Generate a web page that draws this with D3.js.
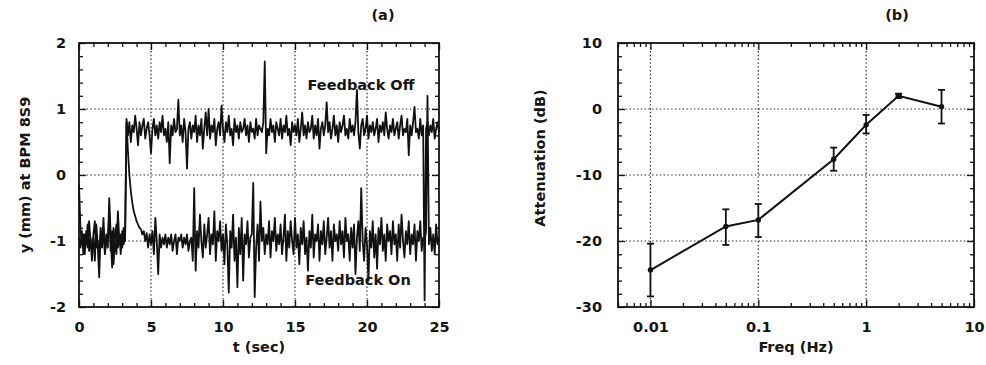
<!DOCTYPE html>
<html><head><meta charset="utf-8">
<script src="https://cdn.jsdelivr.net/npm/d3@7"></script>
<style>
body{margin:0;background:#fff}
text{font-family:"DejaVu Sans",sans-serif;font-weight:bold;fill:#151515}
</style>
</head><body>
<svg id="c" width="986" height="365"></svg>
<script>
// ---------- Panel (a): beam position vs time (sampled every 0.1 s) ----------
const sampleStep = 0.1;
const feedbackOff = [
 -0.95,-1.10,-0.85,-1.20,-0.90,-1.05,-0.75,-1.15,-0.95,-1.30,
 -0.90,-0.70,-1.10,-1.00,-1.25,-0.80,-1.05,-0.65,-1.20,-0.90,
 -1.00,-0.60,-1.15,-0.85,-1.35,-0.95,-0.75,-1.10,-0.90,-1.20,
 -0.85,-1.05,-0.95,0.85,0.60,0.80,0.50,0.75,0.65,0.90,
 0.70,0.45,0.80,0.60,0.75,0.85,0.55,0.70,0.80,0.60,
 0.33,0.70,0.85,0.60,0.75,0.55,0.80,0.65,0.90,0.60,
 0.70,0.50,0.80,0.18,0.75,0.60,0.85,0.65,0.70,1.14,
 0.60,0.75,0.50,0.85,0.65,0.10,0.70,0.80,0.55,0.75,
 0.65,0.90,0.50,0.75,0.60,0.85,0.40,0.70,0.95,0.60,
 1.00,0.55,0.75,0.65,0.85,0.45,0.70,0.80,0.60,1.05,
 0.70,0.50,0.80,0.65,0.90,0.60,0.70,0.45,0.85,0.65,
 0.75,0.55,0.80,0.65,0.70,0.85,0.60,0.75,0.50,0.80,
 0.65,0.70,0.55,0.85,0.60,0.75,0.70,0.65,0.80,1.72,
 0.33,0.70,0.60,0.85,0.65,0.75,0.50,0.80,0.70,0.60,
 0.85,0.55,0.75,0.65,0.90,0.60,0.70,0.45,0.80,0.65,
 0.75,0.60,0.85,0.50,0.70,0.95,0.60,0.75,0.55,0.80,
 0.65,0.70,0.90,0.55,0.75,0.60,0.85,0.40,0.70,0.80,
 0.60,0.75,1.10,0.65,0.80,0.55,0.70,0.90,0.60,0.75,
 0.50,0.80,0.65,0.75,0.90,0.60,0.70,0.55,0.85,0.65,
 0.75,0.60,0.80,1.29,0.65,0.40,0.75,0.85,0.60,0.70,
 0.90,0.55,0.75,0.65,0.80,0.60,0.70,0.85,0.50,0.75,
 0.65,0.80,0.60,0.95,0.70,0.55,0.75,0.65,0.85,0.60,
 0.70,0.80,0.55,0.75,0.90,0.60,0.70,0.65,0.85,0.30,
 0.75,0.60,0.80,1.03,0.65,0.70,0.55,0.85,0.60,0.75,
 -1.90,0.70,0.80,0.60,0.75,0.65,0.85,0.55,0.70,0.80,
 0.65
];
const feedbackOn = [
 -0.15,-0.80,-1.05,-0.90,-1.20,-0.85,-1.10,-0.70,-1.00,-1.15,
 -0.95,-1.30,-0.75,-1.05,-1.55,-0.90,-1.10,-0.80,-1.20,-0.95,
 -1.10,-0.35,-0.90,-1.40,-0.80,-1.05,-1.20,-0.55,-1.00,-0.90,
 -1.10,-0.80,-1.00,0.80,0.35,0.00,-0.25,-0.42,-0.55,-0.62,
 -0.70,-0.75,-0.80,-0.82,-0.90,-0.85,-1.00,-0.88,-1.10,-0.90,
 -1.05,-0.85,-1.20,-0.65,-1.00,-1.50,-0.90,-1.10,-0.95,-1.05,
 -0.90,-1.10,-0.95,-1.05,-0.90,-1.15,-1.00,-0.90,-1.20,-0.95,
 -1.00,-0.90,-1.10,-0.95,-1.05,-0.90,-1.15,-1.00,-0.95,-1.30,
 -0.20,-1.45,-0.85,-1.10,-0.60,-1.00,-1.25,-0.75,-1.10,-0.90,
 -0.65,-1.20,-0.90,-1.05,-0.55,-1.30,-0.85,-1.00,-0.70,-1.15,
 -0.90,-1.35,-0.75,-1.05,-1.78,-0.85,-1.10,-0.60,-1.30,-0.95,
 -1.70,-0.80,-1.20,-0.65,-1.60,-0.90,-1.05,-0.70,-1.25,-0.95,
 -0.90,-0.12,-1.85,-1.10,-0.75,-1.30,-0.40,-1.00,-0.80,-1.20,
 -0.90,-1.05,-0.70,-1.25,-0.85,-1.00,-0.65,-1.15,-0.90,-1.05,
 -0.75,-1.20,-0.95,-0.60,-1.30,-0.85,-1.10,-0.70,-1.00,-1.20,
 -0.65,-1.10,-0.90,-1.35,-0.80,-1.05,-0.70,-1.20,-0.95,-1.45,
 -0.85,-1.10,-0.60,-1.25,-0.90,-1.00,-0.75,-1.30,-0.85,-1.05,
 -0.70,-1.20,-0.95,-0.65,-1.10,-0.85,-1.30,-0.75,-1.00,-0.90,
 -1.15,-0.70,-1.05,-0.85,-1.25,-0.65,-1.00,-0.90,-1.30,-0.80,
 -1.10,-0.75,-1.50,-0.95,-0.70,-1.15,-0.20,-1.00,-1.30,-0.80,
 -1.05,-1.60,-0.85,-1.10,-0.70,-1.25,-0.90,-1.42,-0.80,-1.05,
 -0.65,-1.15,-0.90,-1.30,-0.75,-1.00,-0.85,-1.20,-0.70,-1.05,
 -0.90,-1.30,-0.75,-1.10,-0.60,-1.00,-1.25,-0.85,-1.05,-0.70,
 -1.20,-0.90,-1.05,-0.75,-1.30,-0.85,-1.00,-0.70,-1.15,-0.95,
 -1.00,-0.85,1.20,-1.05,-0.80,-1.15,-0.90,-1.20,-0.75,-1.05,
 -0.95
];
const timeTicks = [0, 5, 10, 15, 20, 25];
const posTicks = [-2, -1, 0, 1, 2];

// ---------- Panel (b): attenuation vs frequency ----------
const freqHz        = [0.01, 0.05, 0.1, 0.5, 1, 2, 5];
const attenuationDb = [-24.4, -17.8, -16.8, -7.6, -2.4, 2.0, 0.35];
const errLowDb      = [-28.4, -20.6, -19.4, -9.35, -3.7, 1.7, -2.2];
const errHighDb     = [-20.4, -15.2, -14.4, -5.85, -0.9, 2.3, 2.9];
const freqTicks = [0.01, 0.1, 1, 10];
const freqTickLabels = ["0.01", "0.1", "1", "10"];
const attTicks = [-30, -20, -10, 0, 10];

const svg = d3.select("#c");
const FS = 14.5;
const plainInt = d => String(d);

function styleAxis(g) {
  g.attr("font-family", null).attr("font-size", null);
  g.select(".domain").remove();
  g.selectAll(".tick line").attr("stroke", "#111").attr("stroke-width", 1.3);
  g.selectAll("text").style("font-size", FS + "px");
}

function frame(x, y, o) {
  const [x0, x1] = x.range(), [y0, y1] = y.range();
  const g = svg.append("g");
  g.selectAll(".gx").data(o.xGrid).join("line")
    .attr("x1", d => x(d)).attr("x2", d => x(d)).attr("y1", y0).attr("y2", y1)
    .attr("stroke", "#222").attr("stroke-width", 1.2).attr("stroke-dasharray", "1.4,2.4");
  g.selectAll(".gy").data(o.yGrid).join("line")
    .attr("y1", d => y(d)).attr("y2", d => y(d)).attr("x1", x0).attr("x2", x1)
    .attr("stroke", "#222").attr("stroke-width", 1.2).attr("stroke-dasharray", "1.4,2.4");
  const mk = (axisFn, scale, vals, size, tr, fmt, pad) => {
    const a = axisFn(scale).tickValues(vals).tickSize(-size).tickPadding(pad || 0)
      .tickFormat(fmt || (() => ""));
    const ag = g.append("g").attr("transform", tr).call(a);
    styleAxis(ag);
    return ag;
  };
  mk(d3.axisBottom, x, o.xMinor, 4, `translate(0,${y0})`);
  mk(d3.axisTop, x, o.xMinor, 4, `translate(0,${y1})`);
  mk(d3.axisLeft, y, o.yMinor, 4, `translate(${x0},0)`);
  mk(d3.axisRight, y, o.yMinor, 4, `translate(${x1},0)`);
  mk(d3.axisBottom, x, o.xMajor, 7, `translate(0,${y0})`, o.xFmt, 15);
  mk(d3.axisTop, x, o.xMajor, 7, `translate(0,${y1})`);
  mk(d3.axisLeft, y, o.yMajor, 7, `translate(${x0},0)`, o.yFmt, o.yPad);
  mk(d3.axisRight, y, o.yMajor, 7, `translate(${x1},0)`);
  g.append("rect").attr("x", x0).attr("y", y1).attr("width", x1 - x0).attr("height", y0 - y1)
    .attr("fill", "none").attr("stroke", "#111").attr("stroke-width", 1.8);
  return g;
}

// ===== Panel (a) =====
const xa = d3.scaleLinear([0, 25], [79, 439]);
const ya = d3.scaleLinear([-2, 2], [307, 43]);
const near = (a, b) => Math.abs(a - b) < 1e-6;
frame(xa, ya, {
  xGrid: timeTicks.slice(1, -1), yGrid: posTicks.slice(1, -1),
  xMajor: timeTicks, yMajor: posTicks,
  xMinor: d3.range(0, 25.001, 1).filter(v => !timeTicks.some(t => near(t, v))),
  yMinor: d3.range(-2, 2.001, 0.2).filter(v => !posTicks.some(t => near(t, v))),
  xFmt: plainInt, yFmt: plainInt, yPad: 13
});
const lineA = d3.line().x((d, i) => xa(i * sampleStep)).y(d => ya(d));
[feedbackOn, feedbackOff].forEach(series => {
  svg.append("path").datum(series).attr("d", lineA)
    .attr("fill", "none").attr("stroke", "#111").attr("stroke-width", 1.8)
    .attr("stroke-linejoin", "round");
});

svg.append("text").attr("x", 361).attr("y", 90).attr("text-anchor", "middle").style("font-size", FS + "px").text("Feedback Off");
svg.append("text").attr("x", 358).attr("y", 285).attr("text-anchor", "middle").style("font-size", FS + "px").text("Feedback On");
svg.append("text").attr("x", 259).attr("y", 352).attr("text-anchor", "middle").style("font-size", FS + "px").text("t (sec)");
svg.append("text").attr("transform", "translate(30,175) rotate(-90)").attr("text-anchor", "middle").style("font-size", FS + "px").text("y (mm) at BPM 8S9");
svg.append("text").attr("x", 383).attr("y", 20).attr("text-anchor", "middle").style("font-size", FS + "px").text("(a)");

// ===== Panel (b) =====
const xb = d3.scaleLog([0.005, 10], [618, 974]);
const yb = d3.scaleLinear([-30, 10], [307, 43]);
frame(xb, yb, {
  xGrid: freqTicks.slice(0, -1), yGrid: attTicks.slice(1, -1),
  xMajor: freqTicks, yMajor: attTicks,
  xMinor: xb.ticks().filter(v => !freqTicks.some(t => near(t, v))),
  yMinor: d3.range(-30, 10.001, 2).filter(v => !attTicks.some(t => near(t, v))),
  xFmt: (d) => freqTickLabels[freqTicks.indexOf(d)], yFmt: plainInt, yPad: 16
});
const pts = freqHz.map((f, i) => ({ f, v: attenuationDb[i], lo: errLowDb[i], hi: errHighDb[i] }));
svg.append("path").datum(pts)
  .attr("d", d3.line().x(d => xb(d.f)).y(d => yb(d.v)))
  .attr("fill", "none").attr("stroke", "#111").attr("stroke-width", 2);
const eb = svg.append("g").attr("stroke", "#111").attr("stroke-width", 1.8);
pts.forEach(d => {
  const cx = xb(d.f);
  eb.append("line").attr("x1", cx).attr("x2", cx).attr("y1", yb(d.lo)).attr("y2", yb(d.hi));
  [d.lo, d.hi].forEach(e => eb.append("line").attr("x1", cx - 3.5).attr("x2", cx + 3.5).attr("y1", yb(e)).attr("y2", yb(e)));
});
svg.append("g").selectAll("circle").data(pts.filter(d => d.f !== 2)).join("circle")
  .attr("cx", d => xb(d.f)).attr("cy", d => yb(d.v)).attr("r", 2.7).attr("fill", "#111");
svg.append("g").selectAll("rect").data(pts.filter(d => d.f === 2)).join("rect")
  .attr("x", d => xb(d.f) - 3).attr("y", d => yb(d.v) - 3).attr("width", 6).attr("height", 6).attr("fill", "#111");

svg.append("text").attr("x", 796).attr("y", 352).attr("text-anchor", "middle").style("font-size", FS + "px").text("Freq (Hz)");
svg.append("text").attr("transform", "translate(545,158) rotate(-90)").attr("text-anchor", "middle").style("font-size", FS + "px").text("Attenuation (dB)");
svg.append("text").attr("x", 897).attr("y", 20).attr("text-anchor", "middle").style("font-size", FS + "px").text("(b)");
</script>
</body></html>
